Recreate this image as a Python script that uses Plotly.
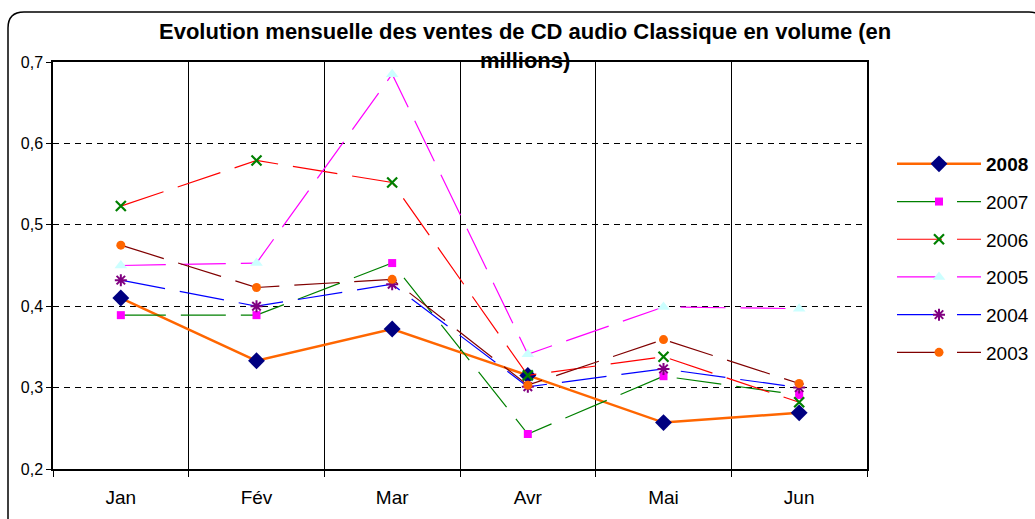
import plotly.graph_objects as go

months = ["Jan", "Fév", "Mar", "Avr", "Mai", "Jun"]
years = ["2008", "2007", "2006", "2005", "2004", "2003"]
v2008 = [0.410, 0.333, 0.372, 0.315, 0.257, 0.269]
v2007 = [0.389, 0.389, 0.453, 0.243, 0.314, 0.291]
v2006 = [0.523, 0.579, 0.552, 0.315, 0.338, 0.282]
v2005 = [0.450, 0.453, 0.685, 0.341, 0.399, 0.397]
v2004 = [0.432, 0.400, 0.427, 0.301, 0.323, 0.300]
v2003 = [0.475, 0.423, 0.433, 0.303, 0.359, 0.305]
y_ticks = [0.2, 0.3, 0.4, 0.5, 0.6, 0.7]

FONT = "Liberation Sans, Arial, sans-serif"
W, H = 1035, 519
L, R, T, B = 53, 867, 62, 469


def px(x):
    return (x - L) / (R - L)


def py(y):
    return (B - y) / (B - T)


DASH = "45px,15px"
styles = {
    "2008": dict(line=dict(color="#FF6600", width=2.5),
                 marker=dict(symbol="diamond", color="#000080", size=13)),
    "2007": dict(line=dict(color="#008000", width=1.2, dash=DASH),
                 marker=dict(symbol="square", color="#FF00FF", size=8)),
    "2006": dict(line=dict(color="#FF0000", width=1.2, dash=DASH),
                 marker=dict(symbol="x-thin", color="#008000", size=10,
                             line=dict(color="#008000", width=2.2))),
    "2005": dict(line=dict(color="#FF00FF", width=1.2, dash=DASH),
                 marker=dict(symbol="triangle-up", color="#CCFFFF", size=11)),
    "2004": dict(line=dict(color="#0000FF", width=1.2, dash=DASH),
                 marker=dict(symbol="asterisk", color="#800080", size=10,
                             line=dict(color="#800080", width=2))),
    "2003": dict(line=dict(color="#800000", width=1.2, dash=DASH),
                 marker=dict(symbol="circle", color="#FF6600", size=9)),
}
series = {"2008": v2008, "2007": v2007, "2006": v2006,
          "2005": v2005, "2004": v2004, "2003": v2003}

fig = go.Figure()
for yr in years:
    name = f"<b>{yr}</b>" if yr == "2008" else yr
    fig.add_trace(go.Scatter(
        x=months, y=series[yr], name=name, mode="lines+markers",
        legendgroup=yr, **styles[yr]))

# rounded outer frame
x0, y0, x1, y1, r = 8, 12, 1045, 530, 16
path = (f"M {px(x0)},{py(y0 + r)} Q {px(x0)},{py(y0)} {px(x0 + r)},{py(y0)} "
        f"L {px(x1 - r)},{py(y0)} Q {px(x1)},{py(y0)} {px(x1)},{py(y0 + r)} "
        f"L {px(x1)},{py(y1)} L {px(x0)},{py(y1)} Z")
fig.add_shape(type="path", path=path, xref="paper", yref="paper",
              line=dict(color="black", width=1.5), layer="below")

fig.add_annotation(
    text="<b>Evolution mensuelle des ventes de CD audio Classique en volume (en<br>millions)</b>",
    x=px(525), y=py(17), xref="paper", yref="paper", xanchor="center", yanchor="top",
    showarrow=False, font=dict(family=FONT, size=22, color="black"))

fig.update_layout(
    width=W, height=H,
    margin=dict(l=L, r=W - R, t=T, b=H - B, pad=0, autoexpand=False),
    paper_bgcolor="white", plot_bgcolor="white",
    separators=", ",
    font=dict(family=FONT, color="black"),
    showlegend=True,
    legend=dict(x=px(892), y=py(145), xanchor="left", yanchor="top",
                font=dict(family=FONT, size=19, color="black"),
                tracegroupgap=10, itemwidth=84, bgcolor="rgba(0,0,0,0)"),
    xaxis=dict(type="category", range=[-0.5, 5.5], tickson="boundaries",
               showgrid=True, gridcolor="black", gridwidth=1,
               showline=True, linecolor="black", linewidth=1.5, mirror=True,
               ticks="outside", ticklen=6, tickcolor="black", ticklabelstandoff=10,
               tickfont=dict(family=FONT, size=19), fixedrange=True),
    yaxis=dict(range=[0.2, 0.7], tickvals=y_ticks, tickformat=".1f",
               showgrid=True, gridcolor="black", gridwidth=1, griddash="6px,5px",
               showline=True, linecolor="black", linewidth=1.5, mirror=True,
               ticks="outside", ticklen=5, tickcolor="black",
               tickfont=dict(family=FONT, size=16), zeroline=False, fixedrange=True),
)

fig.write_html("out.html", config={"displayModeBar": False},
               post_script="document.body.style.margin='0';")
